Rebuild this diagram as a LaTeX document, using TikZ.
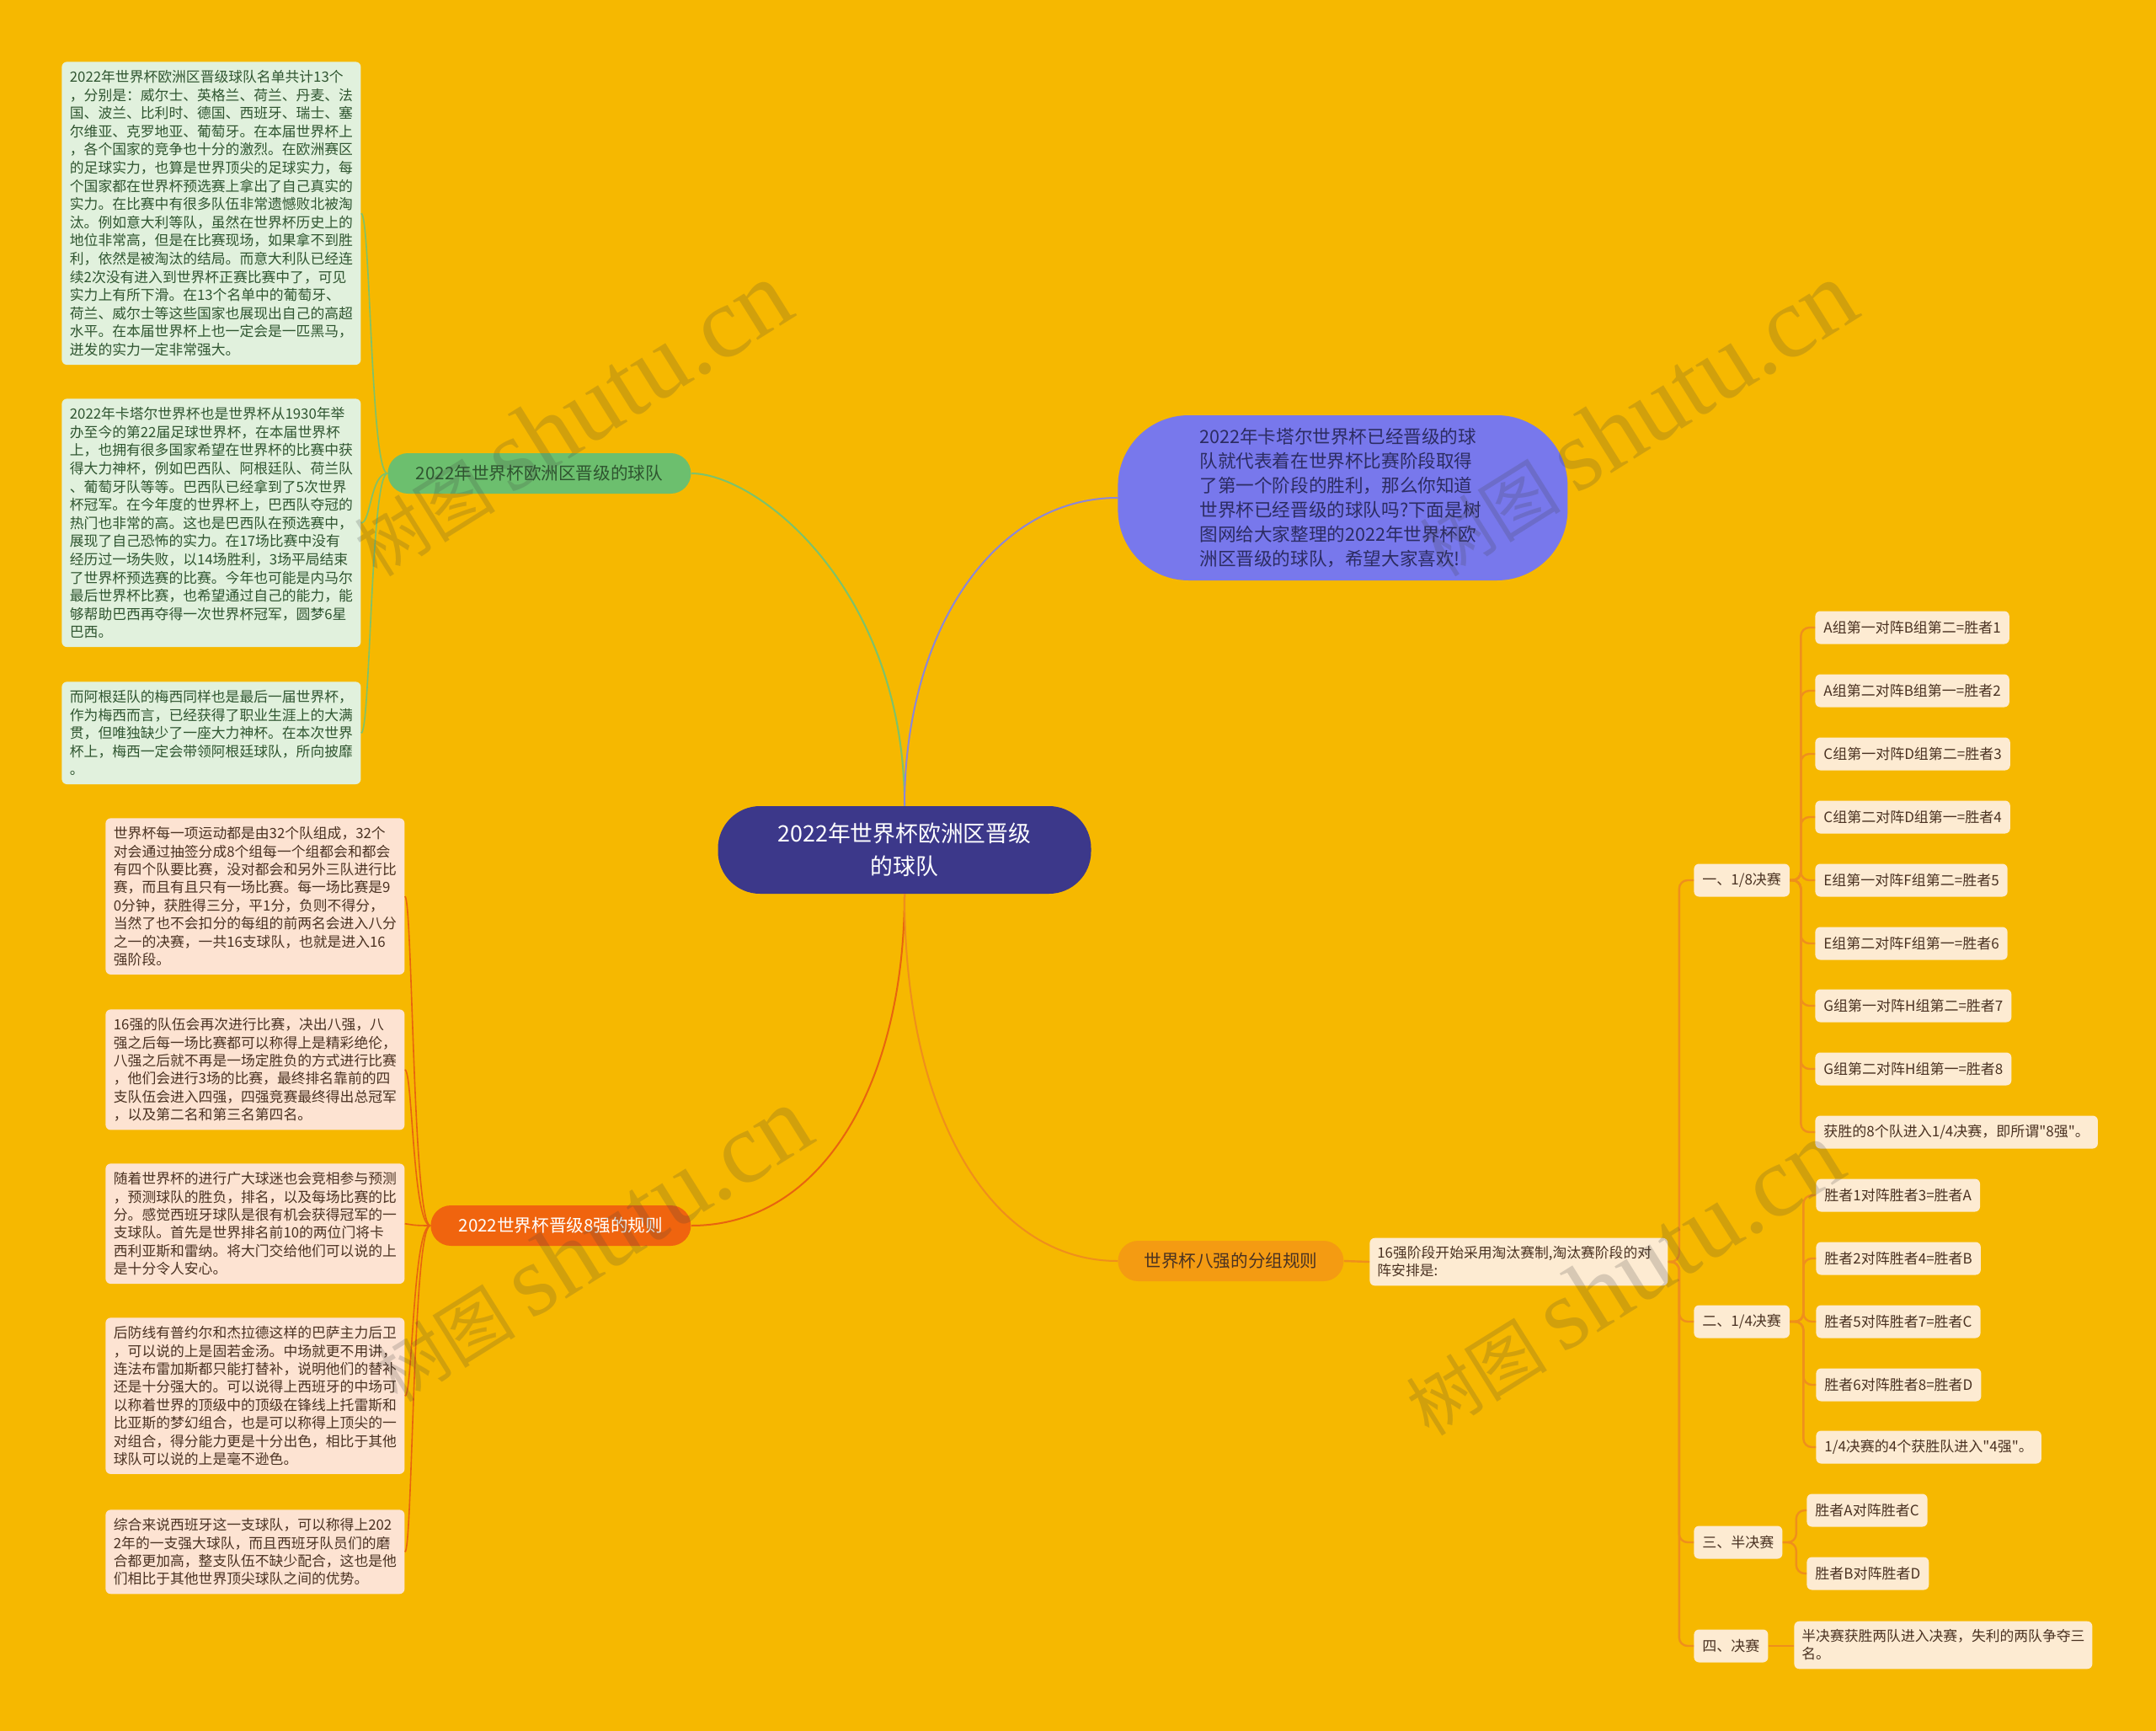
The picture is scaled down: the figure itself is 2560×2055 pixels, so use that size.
\documentclass[tikz,border=0pt]{standalone}
\usepackage{fontspec}
\usepackage{tikz}
\setmainfont{Noto Sans CJK SC}[Ligatures=TeXOff]
\newfontfamily\wmlatin{Liberation Serif}
\definecolor{bgcol}{HTML}{F6B800}
\definecolor{rootcol}{HTML}{3C388A}
\definecolor{greencol}{HTML}{6CBF6E}
\definecolor{greenline}{HTML}{7CC26C}
\definecolor{greenfill}{HTML}{E1F1DD}
\definecolor{greentxt}{HTML}{2F5530}
\definecolor{purplecol}{HTML}{7878EC}
\definecolor{purpleline}{HTML}{8C86D8}
\definecolor{purpletxt}{HTML}{2C2C62}
\definecolor{redcol}{HTML}{F0640E}
\definecolor{redline}{HTML}{E8640F}
\definecolor{peachfill}{HTML}{FDE3D2}
\definecolor{browntxt}{HTML}{4A3222}
\definecolor{orangecol}{HTML}{F49B12}
\definecolor{orangeline}{HTML}{EF8F1C}
\definecolor{creamfill}{HTML}{FDEBD2}

\tikzset{
  rootbox/.style={fill=rootcol, text=white, rounded corners=25pt, minimum width=221.5pt, minimum height=52pt, align=center, font=\fontsize{13.4}{19.5}\selectfont},
  branchbox/.style={rounded corners=12pt, minimum height=24pt, anchor=west, font=\fontsize{10.3}{12}\selectfont},
  greenpara/.style={fill=greenfill, text=greentxt, rounded corners=3pt, text width=168pt, inner xsep=4.75pt, inner ysep=5pt, align=left, anchor=north west, font=\fontsize{8.4}{10.8}\selectfont},
  peachpara/.style={fill=peachfill, text=browntxt, rounded corners=3pt, text width=168pt, inner xsep=4.75pt, inner ysep=5pt, align=left, anchor=north west, font=\fontsize{8.4}{10.7}\selectfont},
  stagebox/.style={fill=creamfill, text=browntxt, rounded corners=3pt, minimum height=19.5pt, inner xsep=5pt, anchor=west, font=\fontsize{8.5}{10.5}\selectfont},
  stagepara/.style={stagebox, text width=168pt, inner xsep=4.5pt, inner ysep=5pt, align=left, font=\fontsize{8.4}{10.5}\selectfont},
  mainlink/.style={line width=1pt},
  twig/.style={line width=0.8pt},
  stagelink/.style={draw=orangeline, line width=1.2pt, rounded corners=5pt},
  watermark/.style={text=black!75, text opacity=0.2, rotate=32, inner sep=0pt}
}

\begin{document}
\begin{tikzpicture}[x=0.5pt, y=-0.5pt]
  \fill[bgcol] (0,0) rectangle (2560,2055);
  \useasboundingbox (0,0) rectangle (2560,2055);

  % Root
  \node[rootbox] (root) at (1074,1009) {2022年世界杯欧洲区晋级\\的球队};

  % Intro
  \node[fill=purplecol, text=purpletxt, rounded corners=42pt, minimum width=267pt, minimum height=98pt, text width=170pt, align=left, anchor=west, font=\fontsize{10.8}{14.5}\selectfont] (intro) at (1327,591) {
    2022年卡塔尔世界杯已经晋级的球\\
    队就代表着在世界杯比赛阶段取得\\
    了第一个阶段的胜利，那么你知道\\
    世界杯已经晋级的球队吗?下面是树\\
    图网给大家整理的2022年世界杯欧\\
    洲区晋级的球队，希望大家喜欢!};

  % Branches
  \node[branchbox, fill=greencol, text=greentxt, minimum width=180pt] (teams) at (460,562) {2022年世界杯欧洲区晋级的球队};
  \node[branchbox, fill=redcol, text=white, minimum width=154.5pt] (rules) at (511,1455) {2022世界杯晋级8强的规则};
  \node[branchbox, fill=orangecol, text=browntxt, minimum width=134pt] (groups) at (1327,1497) {世界杯八强的分组规则};

  \draw[mainlink, greenline] (root.north) .. controls (1074,700) and (900,562) .. (teams.east);
  \draw[mainlink, purpleline] (root.north) .. controls (1074,750) and (1180,591) .. (intro.west);
  \draw[mainlink, redline] (root.south) .. controls (1074,1280) and (980,1455) .. (rules.east);
  \draw[mainlink, orangeline] (root.south) .. controls (1074,1330) and (1180,1497) .. (groups.west);

  % Qualified teams
  \node[greenpara] (list) at (73,73) {
    2022年世界杯欧洲区晋级球队名单共计13个\\
    ，分别是：威尔士、英格兰、荷兰、丹麦、法\\
    国、波兰、比利时、德国、西班牙、瑞士、塞\\
    尔维亚、克罗地亚、葡萄牙。在本届世界杯上\\
    ，各个国家的竞争也十分的激烈。在欧洲赛区\\
    的足球实力，也算是世界顶尖的足球实力，每\\
    个国家都在世界杯预选赛上拿出了自己真实的\\
    实力。在比赛中有很多队伍非常遗憾败北被淘\\
    汰。例如意大利等队，虽然在世界杯历史上的\\
    地位非常高，但是在比赛现场，如果拿不到胜\\
    利，依然是被淘汰的结局。而意大利队已经连\\
    续2次没有进入到世界杯正赛比赛中了，可见\\
    实力上有所下滑。在13个名单中的葡萄牙、\\
    荷兰、威尔士等这些国家也展现出自己的高超\\
    水平。在本届世界杯上也一定会是一匹黑马，\\
    迸发的实力一定非常强大。};
  \node[greenpara] (brazil) at (73,473) {
    2022年卡塔尔世界杯也是世界杯从1930年举\\
    办至今的第22届足球世界杯，在本届世界杯\\
    上，也拥有很多国家希望在世界杯的比赛中获\\
    得大力神杯，例如巴西队、阿根廷队、荷兰队\\
    、葡萄牙队等等。巴西队已经拿到了5次世界\\
    杯冠军。在今年度的世界杯上，巴西队夺冠的\\
    热门也非常的高。这也是巴西队在预选赛中，\\
    展现了自己恐怖的实力。在17场比赛中没有\\
    经历过一场失败，以14场胜利，3场平局结束\\
    了世界杯预选赛的比赛。今年也可能是内马尔\\
    最后世界杯比赛，也希望通过自己的能力，能\\
    够帮助巴西再夺得一次世界杯冠军，圆梦6星\\
    巴西。};
  \node[greenpara] (messi) at (73,809) {
    而阿根廷队的梅西同样也是最后一届世界杯，\\
    作为梅西而言，已经获得了职业生涯上的大满\\
    贯，但唯独缺少了一座大力神杯。在本次世界\\
    杯上，梅西一定会带领阿根廷球队，所向披靡\\
    。};

  \draw[twig, greenline] (teams.west) .. controls (440,562) and (440,254) .. (list.east);
  \draw[twig, greenline] (teams.west) .. controls (440,562) and (440,622) .. (brazil.east);
  \draw[twig, greenline] (teams.west) .. controls (440,562) and (440,871) .. (messi.east);

  % Rules for the last eight
  \node[peachpara] (format) at (125,971) {
    世界杯每一项运动都是由32个队组成，32个\\
    对会通过抽签分成8个组每一个组都会和都会\\
    有四个队要比赛，没对都会和另外三队进行比\\
    赛，而且有且只有一场比赛。每一场比赛是9\\
    0分钟，获胜得三分，平1分，负则不得分，\\
    当然了也不会扣分的每组的前两名会进入八分\\
    之一的决赛，一共16支球队，也就是进入16\\
    强阶段。};
  \node[peachpara] (knockout) at (125,1198) {
    16强的队伍会再次进行比赛，决出八强，八\\
    强之后每一场比赛都可以称得上是精彩绝伦，\\
    八强之后就不再是一场定胜负的方式进行比赛\\
    ，他们会进行3场的比赛，最终排名靠前的四\\
    支队伍会进入四强，四强竞赛最终得出总冠军\\
    ，以及第二名和第三名第四名。};
  \node[peachpara] (keepers) at (125,1381) {
    随着世界杯的进行广大球迷也会竞相参与预测\\
    ，预测球队的胜负，排名，以及每场比赛的比\\
    分。感觉西班牙球队是很有机会获得冠军的一\\
    支球队。首先是世界排名前10的两位门将卡\\
    西利亚斯和雷纳。将大门交给他们可以说的上\\
    是十分令人安心。};
  \node[peachpara] (defence) at (125,1564) {
    后防线有普约尔和杰拉德这样的巴萨主力后卫\\
    ，可以说的上是固若金汤。中场就更不用讲，\\
    连法布雷加斯都只能打替补，说明他们的替补\\
    还是十分强大的。可以说得上西班牙的中场可\\
    以称着世界的顶级中的顶级在锋线上托雷斯和\\
    比亚斯的梦幻组合，也是可以称得上顶尖的一\\
    对组合，得分能力更是十分出色，相比于其他\\
    球队可以说的上是毫不逊色。};
  \node[peachpara] (spain) at (125,1792) {
    综合来说西班牙这一支球队，可以称得上202\\
    2年的一支强大球队，而且西班牙队员们的磨\\
    合都更加高，整支队伍不缺少配合，这也是他\\
    们相比于其他世界顶尖球队之间的优势。};

  \draw[twig, redline] (rules.west) .. controls (490,1455) and (490,1066) .. (format.east);
  \draw[twig, redline] (rules.west) .. controls (490,1455) and (490,1271) .. (knockout.east);
  \draw[twig, redline] (rules.west) .. controls (490,1455) and (490,1454) .. (keepers.east);
  \draw[twig, redline] (rules.west) .. controls (490,1455) and (490,1659) .. (defence.east);
  \draw[twig, redline] (rules.west) .. controls (490,1455) and (490,1843) .. (spain.east);

  % Draw of the knockout stage
  \node[stagepara] (draw16) at (1626,1498) {16强阶段开始采用淘汰赛制,淘汰赛阶段的对\\阵安排是:};
  \draw[stagelink] (groups.east) -- (draw16.west);

  \node[stagebox] (last16) at (2011,1045) {一、1/8决赛};
  \node[stagebox] (last8) at (2011,1569) {二、1/4决赛};
  \node[stagebox] (semi) at (2011,1831) {三、半决赛};
  \node[stagebox] (final) at (2011,1954) {四、决赛};

  \draw[stagelink] (draw16.east) -- ++(13,0) |- (last16.west);
  \draw[stagelink] (draw16.east) -- ++(13,0) |- (last8.west);
  \draw[stagelink] (draw16.east) -- ++(13,0) |- (semi.west);
  \draw[stagelink] (draw16.east) -- ++(13,0) |- (final.west);

  % Round of 16
  \node[stagebox] (w1) at (2155,745) {A组第一对阵B组第二=胜者1};
  \node[stagebox] (w2) at (2155,820) {A组第二对阵B组第一=胜者2};
  \node[stagebox] (w3) at (2155,895) {C组第一对阵D组第二=胜者3};
  \node[stagebox] (w4) at (2155,970) {C组第二对阵D组第一=胜者4};
  \node[stagebox] (w5) at (2155,1045) {E组第一对阵F组第二=胜者5};
  \node[stagebox] (w6) at (2155,1120) {E组第二对阵F组第一=胜者6};
  \node[stagebox] (w7) at (2155,1194) {G组第一对阵H组第二=胜者7};
  \node[stagebox] (w8) at (2155,1269) {G组第二对阵H组第一=胜者8};
  \node[stagebox] (to8) at (2155,1344) {获胜的8个队进入1/4决赛，即所谓"8强"。};
  \foreach \n in {w1,w2,w3,w4,w5,w6,w7,w8,to8}
    \draw[stagelink] (last16.east) -- ++(13,0) |- (\n.west);

  % Quarter-finals
  \node[stagebox] (wa) at (2156,1419) {胜者1对阵胜者3=胜者A};
  \node[stagebox] (wb) at (2156,1494) {胜者2对阵胜者4=胜者B};
  \node[stagebox] (wc) at (2156,1569) {胜者5对阵胜者7=胜者C};
  \node[stagebox] (wd) at (2156,1644) {胜者6对阵胜者8=胜者D};
  \node[stagebox] (to4) at (2156,1718) {1/4决赛的4个获胜队进入"4强"。};
  \foreach \n in {wa,wb,wc,wd,to4}
    \draw[stagelink] (last8.east) -- ++(16,0) |- (\n.west);

  % Semi-finals and final
  \node[stagebox] (sf1) at (2145,1793) {胜者A对阵胜者C};
  \node[stagebox] (sf2) at (2145,1868) {胜者B对阵胜者D};
  \draw[stagelink] (semi.east) -- ++(16,0) |- (sf1.west);
  \draw[stagelink] (semi.east) -- ++(16,0) |- (sf2.west);
  \node[stagepara] (ending) at (2130,1953) {半决赛获胜两队进入决赛，失利的两队争夺三\\名。};
  \draw[stagelink] (final.east) -- (final.east -| ending.west);

  % Watermarks
  \node[watermark] (wm1) at (678,498) {\fontsize{42}{42}\selectfont 树图 {\wmlatin\fontsize{60}{60}\selectfont shutu.cn}};
  \node[watermark] (wm2) at (1943,498) {\fontsize{42}{42}\selectfont 树图 {\wmlatin\fontsize{60}{60}\selectfont shutu.cn}};
  \node[watermark] (wm3) at (702,1478) {\fontsize{42}{42}\selectfont 树图 {\wmlatin\fontsize{60}{60}\selectfont shutu.cn}};
  \node[watermark] (wm4) at (1927,1518) {\fontsize{42}{42}\selectfont 树图 {\wmlatin\fontsize{60}{60}\selectfont shutu.cn}};
\end{tikzpicture}
\end{document}
